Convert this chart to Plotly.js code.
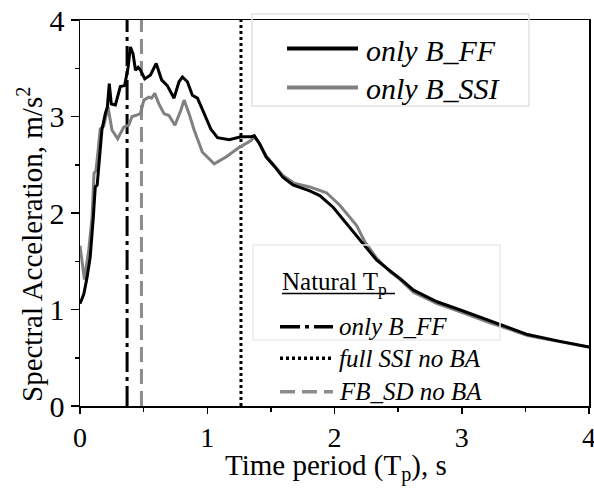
<!DOCTYPE html>
<html>
<head>
<meta charset="utf-8">
<script src="https://cdn.plot.ly/plotly-3.0.1.min.js"></script>
<style>html,body{margin:0;padding:0;background:#fff;}#chart{width:594px;height:488px;}</style>
</head>
<body>
<div id="chart"></div>
<script>
// ---- data ----
const seriesNames = ['only B_FF', 'only B_SSI'];

const periodFF = [0.00, 0.03, 0.055, 0.08, 0.105, 0.12, 0.135, 0.15, 0.16, 0.172, 0.199, 0.215, 0.230, 0.246, 0.278, 0.317, 0.351, 0.378, 0.396, 0.417, 0.436, 0.457, 0.475, 0.509, 0.554, 0.599, 0.641, 0.686, 0.739, 0.778, 0.805, 0.844, 0.883, 0.923, 0.976, 1.028, 1.081, 1.173, 1.265, 1.344, 1.370, 1.41, 1.463, 1.53, 1.594, 1.673, 1.805, 1.884, 1.989, 2.121, 2.226, 2.332, 2.437, 2.516, 2.621, 2.806, 3.00, 3.227, 3.41, 3.517, 3.754, 4.0];
const accFF = [1.06, 1.16, 1.33, 1.54, 1.96, 2.27, 2.29, 2.55, 2.65, 2.86, 3.03, 3.10, 3.34, 3.13, 3.12, 3.31, 3.32, 3.51, 3.72, 3.65, 3.48, 3.51, 3.48, 3.39, 3.43, 3.55, 3.38, 3.32, 3.19, 3.36, 3.41, 3.36, 3.22, 3.19, 3.03, 2.87, 2.78, 2.76, 2.79, 2.79, 2.80, 2.72, 2.58, 2.48, 2.37, 2.29, 2.23, 2.18, 2.06, 1.85, 1.68, 1.51, 1.40, 1.32, 1.20, 1.08, 0.99, 0.88, 0.79, 0.74, 0.675, 0.61];

const periodSSI = [0.00, 0.035, 0.07, 0.095, 0.11, 0.125, 0.14, 0.159, 0.186, 0.204, 0.220, 0.238, 0.251, 0.296, 0.344, 0.383, 0.409, 0.436, 0.475, 0.502, 0.541, 0.562, 0.588, 0.620, 0.660, 0.699, 0.746, 0.791, 0.818, 0.857, 0.897, 0.962, 1.055, 1.147, 1.252, 1.344, 1.370, 1.41, 1.463, 1.594, 1.68, 1.805, 1.937, 2.042, 2.174, 2.239, 2.332, 2.437, 2.516, 2.621, 2.806, 3.00, 3.227, 3.41, 3.517, 3.754, 4.0];
const accSSI = [1.66, 1.31, 1.63, 1.96, 2.41, 2.44, 2.62, 2.87, 2.90, 3.00, 3.10, 2.96, 2.86, 2.77, 2.89, 2.91, 3.00, 3.01, 3.03, 3.17, 3.20, 3.19, 3.24, 3.13, 3.03, 3.01, 2.91, 3.06, 3.17, 3.03, 2.86, 2.63, 2.51, 2.58, 2.68, 2.75, 2.79, 2.72, 2.59, 2.39, 2.31, 2.27, 2.21, 2.08, 1.87, 1.70, 1.53, 1.39, 1.31, 1.18, 1.06, 0.97, 0.86, 0.78, 0.73, 0.67, 0.61];

const naturalTpTitle = 'Natural T<sub>p</sub>';
const naturalTpNames = ['only B_FF', 'full SSI no BA', 'FB_SD no BA'];
const naturalTpValues = [0.37, 1.265, 0.483];
const accRange = [0, 4];

const xTickVals = [0, 1, 2, 3, 4];
const xTickText = ['0', '1', '2', '3', '4'];
const yTickVals = [0, 1, 2, 3, 4];
const yTickText = ['0', '1', '2', '3', '4'];

const xTitle = 'Time period (T<sub>p</sub>), s';
const yTitle = 'Spectral Acceleration, m/s<sup>2</sup>';

// ---- styles ----
const FONT = 'Liberation Serif, Times New Roman, serif';
const W = 594, H = 488, ML = 80, MR = 5, MT = 20, MB = 82;
const PW = W - ML - MR, PH = H - MT - MB;
const px = v => (v - ML) / PW;          // pixel -> paper x
const py = v => (H - MB - v) / PH;      // pixel -> paper y

const vStyles = [
  {color: '#000000', dash: '20px,5px,4px,5px', width: 3},
  {color: '#000000', dash: '3px,3px', width: 3},
  {color: '#8c8c8c', dash: '15px,7px', width: 3}
];
const seriesStyles = [
  {color: '#000000', width: 3},
  {color: '#808080', width: 3}
];

const traces = [];
naturalTpValues.forEach((t, i) => {
  traces.push({x: [t, t], y: accRange, mode: 'lines', name: naturalTpNames[i],
    line: vStyles[i], showlegend: false, hoverinfo: 'skip'});
});
traces.push({x: periodSSI, y: accSSI, mode: 'lines', name: seriesNames[1],
  line: seriesStyles[1], showlegend: false});
traces.push({x: periodFF, y: accFF, mode: 'lines', name: seriesNames[0],
  line: seriesStyles[0], showlegend: false});

const shapes = [];
const annotations = [];

// Legend 1 (series)
shapes.push({type: 'rect', xref: 'paper', yref: 'paper', x0: px(252), x1: px(529), y0: py(106), y1: py(14),
  line: {color: '#e2e2e2', width: 1.5}, fillcolor: 'rgba(255,255,255,0)', layer: 'above'});
const leg1Rows = [48.5, 87.5];
seriesNames.forEach((n, i) => {
  shapes.push({type: 'line', xref: 'paper', yref: 'paper', x0: px(287), x1: px(358), y0: py(leg1Rows[i]), y1: py(leg1Rows[i]),
    line: {color: seriesStyles[i].color, width: 4}});
  annotations.push({xref: 'paper', yref: 'paper', x: px(364), y: py(leg1Rows[i] + 1.5), xanchor: 'left', yanchor: 'middle',
    text: '<i>' + n + '</i>', showarrow: false, font: {family: FONT, size: 30, color: '#000'}});
});

// Legend 2 (natural periods)
shapes.push({type: 'rect', xref: 'paper', yref: 'paper', x0: px(253), x1: px(500), y0: py(340), y1: py(245),
  line: {color: '#ececec', width: 1.5}, fillcolor: 'rgba(255,255,255,0)', layer: 'above'});
annotations.push({xref: 'paper', yref: 'paper', x: px(280), y: py(283), xanchor: 'left', yanchor: 'middle',
  text: naturalTpTitle, showarrow: false, font: {family: FONT, size: 25, color: '#000'}});
shapes.push({type: 'line', xref: 'paper', yref: 'paper', x0: px(282), x1: px(395), y0: py(293.5), y1: py(293.5),
  line: {color: '#000', width: 1.5}});
const leg2Rows = [326.7, 358.3, 391.7];
naturalTpNames.forEach((n, i) => {
  shapes.push({type: 'line', xref: 'paper', yref: 'paper', x0: px(280), x1: px(333), y0: py(leg2Rows[i]), y1: py(leg2Rows[i]),
    line: {color: vStyles[i].color, width: 3.5, dash: vStyles[i].dash}});
  annotations.push({xref: 'paper', yref: 'paper', x: px(337), y: py(leg2Rows[i]), xanchor: 'left', yanchor: 'middle',
    text: '<i>' + n + '</i>', showarrow: false, font: {family: FONT, size: 25, color: '#000'}});
});

// axis titles
annotations.push({xref: 'paper', yref: 'paper', x: px(30), y: py(245), xanchor: 'center', yanchor: 'middle',
  text: yTitle, textangle: -90, showarrow: false, font: {family: FONT, size: 29, color: '#000'}});
annotations.push({xref: 'paper', yref: 'paper', x: px(336), y: py(468), xanchor: 'center', yanchor: 'middle',
  text: xTitle, showarrow: false, font: {family: FONT, size: 29, color: '#000'}});

const axisCommon = {
  showgrid: false, zeroline: false, showline: true, mirror: true, linecolor: '#000', linewidth: 1.5,
  ticks: 'outside', tickcolor: '#000', tickwidth: 1.5, ticklen: 8,
  tickfont: {family: FONT, size: 30, color: '#000'},
  ticklabeloverflow: 'allow',
  minor: {dtick: 0.5, ticks: 'outside', ticklen: 4, tickcolor: '#000', tickwidth: 1.5, showgrid: false}
};

const layout = {
  width: W, height: H,
  margin: {l: ML, r: MR, t: MT, b: MB, pad: 0},
  paper_bgcolor: '#fff', plot_bgcolor: '#fff',
  showlegend: false,
  font: {family: FONT, color: '#000'},
  xaxis: Object.assign({}, axisCommon, {
    range: [0, 4], tickmode: 'array', tickvals: xTickVals, ticktext: xTickText, ticklen: 6,
    tickfont: {family: FONT, size: 28, color: '#000'}
  }),
  yaxis: Object.assign({}, axisCommon, {
    range: accRange, tickmode: 'array', tickvals: yTickVals, ticktext: yTickText
  }),
  shapes: shapes,
  annotations: annotations
};

Plotly.newPlot('chart', traces, layout, {staticPlot: true, displayModeBar: false});
</script>
</body>
</html>
